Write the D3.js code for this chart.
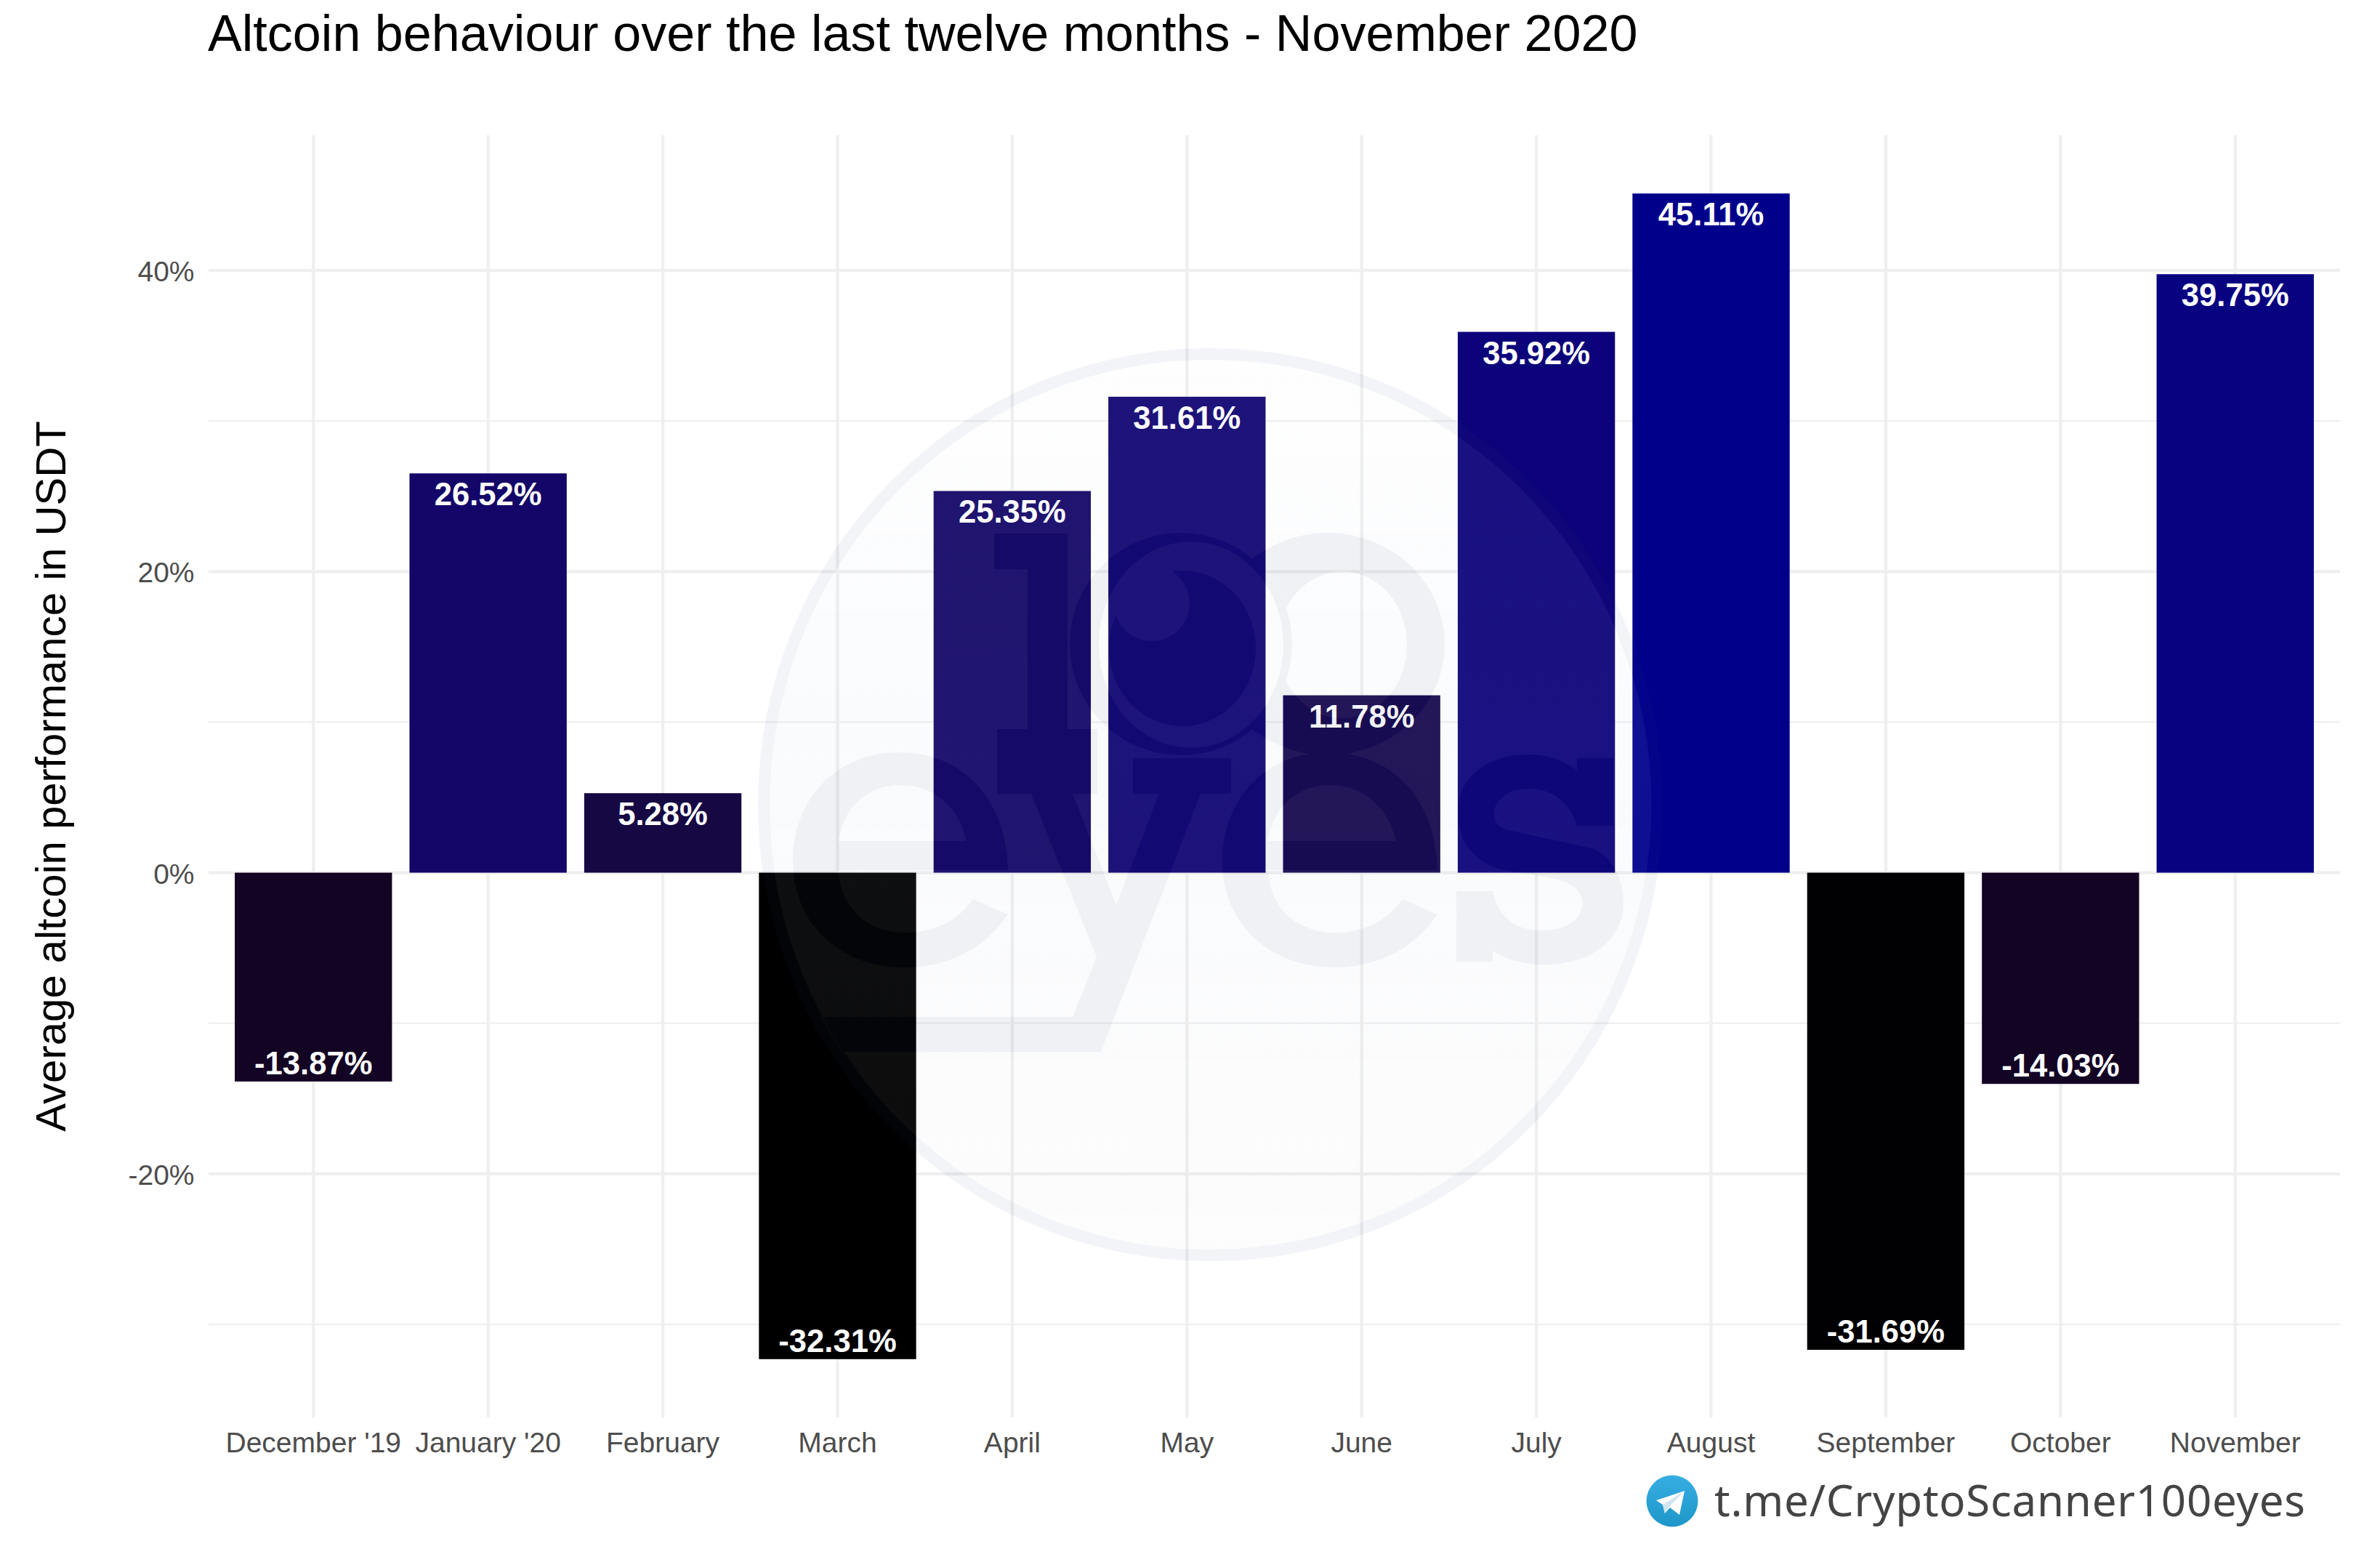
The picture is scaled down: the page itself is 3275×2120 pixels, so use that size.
<!DOCTYPE html>
<html><head><meta charset="utf-8">
<script src="https://cdn.jsdelivr.net/npm/d3@7/dist/d3.min.js"></script>
<style>html,body{margin:0;padding:0;background:#fff}svg{display:block}</style>
</head><body><svg id="c" width="3275" height="2120"></svg>
<script>
const months = ["December '19","January '20","February","March","April","May","June","July","August","September","October","November"];
const values = [-13.87,26.52,5.28,-32.31,25.35,31.61,11.78,35.92,45.11,-31.69,-14.03,39.75];
const majorTicks = [-20,0,20,40];
const minorTicks = [-30,-10,10,30];
const titleText = "Altcoin behaviour over the last twelve months - November 2020";
const yTitleText = "Average altcoin performance in USDT";
const linkText = "t.me/CryptoScanner100eyes";

const font = "'Liberation Sans',Arial,sans-serif";
const P = {l:287,r:3220,t:186,b:1950};
const svg = d3.select("#c");
const defs = svg.append("defs");

const x = d3.scaleBand().domain(months).range([P.l,P.r]).paddingInner(0.1).paddingOuter(0.15);
const extent = d3.extent(values), pad = (extent[1]-extent[0])*0.05;
const y = d3.scaleLinear().domain([extent[0]-pad,extent[1]+pad]).range([P.b,P.t]);
const fill = d3.scaleLinear().domain(extent).range(["#000000","#00008b"]).interpolate(d3.interpolateLab);
const cx = m => x(m)+x.bandwidth()/2;

// grid
const grid = svg.append("g").attr("stroke","#EFEFEF").attr("fill","none");
grid.selectAll("line.minor").data(minorTicks).join("line").attr("class","minor")
  .attr("x1",P.l).attr("x2",P.r).attr("y1",d=>y(d)).attr("y2",d=>y(d)).attr("stroke-width",2.2);
grid.selectAll("line.major").data(majorTicks).join("line").attr("class","major")
  .attr("x1",P.l).attr("x2",P.r).attr("y1",d=>y(d)).attr("y2",d=>y(d)).attr("stroke-width",4.3);
grid.selectAll("line.vert").data(months).join("line").attr("class","vert")
  .attr("x1",cx).attr("x2",cx).attr("y1",P.t).attr("y2",P.b).attr("stroke-width",4.3);

// bars
svg.append("g").selectAll("rect").data(values).join("rect")
  .attr("x",(d,i)=>x(months[i])).attr("width",x.bandwidth())
  .attr("y",d=>y(Math.max(d,0))).attr("height",d=>Math.abs(y(d)-y(0)))
  .attr("fill",d=>fill(d));

// value labels
svg.append("g").selectAll("text").data(values).join("text")
  .attr("x",(d,i)=>cx(months[i]))
  .attr("y",d=>d>=0?y(d)+44:y(d)-10)
  .attr("text-anchor","middle").attr("fill","#fff")
  .attr("font-family",font).attr("font-weight","bold").attr("font-size",43.6)
  .text(d=>d.toFixed(2)+"%");

// axes
const xAxis = svg.append("g").attr("transform",`translate(0,${P.b})`)
  .call(d3.axisBottom(x).tickSize(0).tickPadding(0));
xAxis.select(".domain").remove();
xAxis.selectAll("text").attr("y",48).attr("dy",0).attr("fill","#4D4D4D")
  .attr("font-family",font).attr("font-size",39);
const yAxis = svg.append("g").attr("transform",`translate(${P.l},0)`)
  .call(d3.axisLeft(y).tickValues(majorTicks).tickSize(0).tickFormat(d=>d+"%"));
yAxis.select(".domain").remove();
yAxis.selectAll("text").attr("x",-19.5).attr("dy","0.37em").attr("fill","#4D4D4D")
  .attr("font-family",font).attr("font-size",39);

// titles
svg.append("text").attr("x",286).attr("y",70).attr("font-family",font).attr("font-size",70.1).attr("fill","#000").text(titleText);
svg.append("text").attr("transform",`translate(90,${(P.t+P.b)/2}) rotate(-90)`).attr("text-anchor","middle")
  .attr("font-family",font).attr("font-size",58.1).attr("fill","#000").text(yTitleText);

// watermark logo
const eShape = dx => `M${1387+dx} 1197L${1154+dx} 1197C${1156+dx} 1250 ${1195+dx} 1283 ${1245+dx} 1283C${1285+dx} 1283 ${1318+dx} 1267 ${1339+dx} 1237L${1387+dx} 1258C${1355+dx} 1305 ${1305+dx} 1331 ${1245+dx} 1331C${1155+dx} 1331 ${1091+dx} 1270 ${1091+dx} 1185C${1091+dx} 1100 ${1150+dx} 1035 ${1237+dx} 1035C${1325+dx} 1035 ${1385+dx} 1100 ${1387+dx} 1197Z M${1154+dx} 1157L${1330+dx} 1157C${1320+dx} 1110 ${1285+dx} 1080 ${1238+dx} 1080C${1195+dx} 1080 ${1160+dx} 1110 ${1154+dx} 1157Z`;
const logoPaths = [
  {d:"M1368 734H1469V1003H1510V1043H1372V1003H1414V783H1368Z"},
  {d:"M1472 886A153 153 0 1 0 1778 886A153 153 0 1 0 1472 886Z M1512 887A127 142 0 1 1 1766 887A127 142 0 1 1 1512 887Z"},
  {d:"M1526 892A101 107 0 1 0 1728 892A101 107 0 1 0 1526 892Z",cut:"spark"},
  {d:"M1666 886A161 153 0 1 0 1988 886A161 153 0 1 0 1666 886Z M1758 887A89 101 0 1 1 1936 887A89 101 0 1 1 1758 887Z",cut:"cut"},
  {d:eShape(0)},
  {d:eShape(591)},
  {d:"M1372 1043L1510 1043L1510 1092L1476 1092L1536 1245L1595 1092L1559 1092L1559 1043L1694 1043L1694 1092L1652 1092L1515 1447L1157 1447L1128 1399L1476 1399L1509 1317L1419 1092L1372 1092Z"},
  {d:"M2170 1043L2220 1043L2220 1136L2170 1136C2160 1103 2135 1085 2104 1085C2076 1085 2056 1100 2056 1120C2056 1133 2064 1140 2080 1143L2190 1167C2215 1175 2234 1205 2234 1243C2234 1292 2190 1327 2125 1327C2098 1327 2075 1321 2054 1308L2054 1323L2004 1323L2004 1226L2054 1226C2062 1262 2085 1280 2121 1280C2155 1280 2177 1265 2177 1243C2177 1222 2160 1213 2130 1207L2070 1197C2030 1188 2006 1160 2006 1117C2006 1070 2045 1038 2104 1038C2130 1038 2152 1046 2170 1060Z"}
];
const addMask = (id,ccx,ccy,r) => {
  const m = defs.append("mask").attr("id",id).attr("maskUnits","userSpaceOnUse").attr("x",0).attr("y",0).attr("width",3275).attr("height",2120);
  m.append("rect").attr("width",3275).attr("height",2120).attr("fill","#fff");
  m.append("circle").attr("cx",ccx).attr("cy",ccy).attr("r",r).attr("fill","#000");
};
addMask("cut",1625,886,153);
addMask("spark",1585,830,52);
const drawLogo = (sel,colour) => {
  sel.attr("fill",colour);
  sel.selectAll("path").data(logoPaths).join("path")
    .attr("d",d=>d.d).attr("fill-rule","evenodd").attr("mask",d=>d.cut?`url(#${d.cut})`:null);
};
const discMask = defs.append("mask").attr("id","holes").attr("maskUnits","userSpaceOnUse").attr("x",0).attr("y",0).attr("width",3275).attr("height",2120);
discMask.append("rect").attr("width",3275).attr("height",2120).attr("fill","#fff");
drawLogo(discMask.append("g"),"#000");

const grad = defs.append("linearGradient").attr("id","disc").attr("x1",0).attr("y1",0).attr("x2",0).attr("y2",1);
grad.append("stop").attr("offset",0).attr("stop-color","#E8EEF6").attr("stop-opacity",0.06);
grad.append("stop").attr("offset",0.45).attr("stop-color","#BDCAE1").attr("stop-opacity",0.08);
grad.append("stop").attr("offset",1).attr("stop-color","#C8CCD4").attr("stop-opacity",0.055);
const wm = svg.append("g");
wm.append("ellipse").attr("cx",1665.5).attr("cy",1107).attr("rx",607).attr("ry",612).attr("fill","url(#disc)").attr("mask","url(#holes)");
const glyphs = wm.append("g").attr("opacity",0.07);
drawLogo(glyphs,"#2F467E");
wm.append("ellipse").attr("cx",1665.5).attr("cy",1107).attr("rx",614.5).attr("ry",620).attr("fill","none").attr("stroke","#2F467E").attr("stroke-opacity",0.06).attr("stroke-width",16);

// telegram badge
const tg = defs.append("linearGradient").attr("id","tg").attr("x1",0).attr("y1",0).attr("x2",0).attr("y2",1);
tg.append("stop").attr("offset",0).attr("stop-color","#37AEE2");
tg.append("stop").attr("offset",1).attr("stop-color","#1E96C8");
svg.append("circle").attr("cx",2301).attr("cy",2065).attr("r",35.5).attr("fill","url(#tg)");
svg.append("path").attr("d","M2279 2064L2318 2051L2311 2084L2298 2074L2291 2082L2288 2070Z").attr("fill","#fff");
svg.append("path").attr("d","M2288 2070L2318 2051L2297 2073L2291 2082Z").attr("fill","#D2E5F1");
svg.append("text").attr("x",2359).attr("y",2086).attr("font-family","'Noto Sans','Open Sans',sans-serif")
  .attr("font-size",60).attr("fill","#444").attr("textLength",813).attr("lengthAdjust","spacing").text(linkText);
</script></body></html>
